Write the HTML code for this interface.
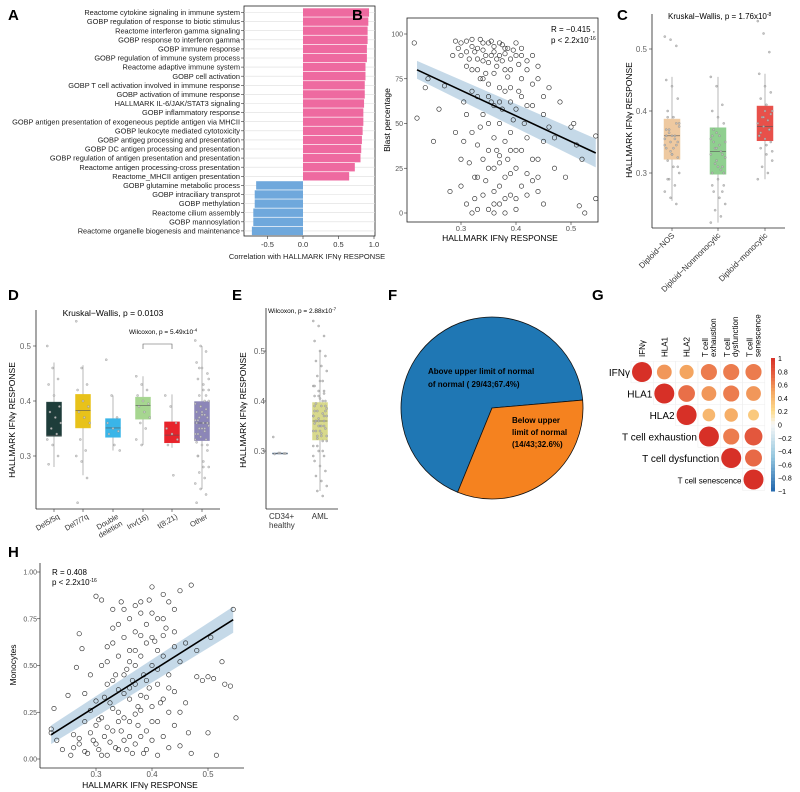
<!DOCTYPE html>
<html><head><meta charset="utf-8"><style>
body{margin:0;background:#fff}
svg{display:block;font-family:"Liberation Sans",Arial,sans-serif}
</style></head><body>
<svg id="fig" width="800" height="792" viewBox="0 0 800 792"></svg>
<script>
// ---------- DATA ----------
const pathwayNames=["Reactome cytokine signaling in immune system","GOBP regulation of response to biotic stimulus","Reactome interferon gamma signaling","GOBP response to interferon gamma","GOBP immune response","GOBP regulation of immune system process","Reactome adaptive immune system","GOBP cell activation","GOBP T cell activation involved in immune response","GOBP activation of immune response","HALLMARK IL-6/JAK/STAT3 signaling","GOBP inflammatory response","GOBP antigen presentation of exogeneous peptide antigen via MHCII","GOBP leukocyte mediated cytotoxicity","GOBP antigeg processing and presentation","GOBP DC antigen processing and presentation","GOBP regulation of antigen presentation and presentation","Reactome antigen processing-cross presentation","Reactome_MHCII antigen presentation","GOBP glutamine metabolic process","GOBP intraciliary transprot","GOBP methylation","Reactome cilium assembly","GOBP mannosylation","Reactome organelle biogenesis and maintenance"];
const pathwayCorr=[0.93,0.92,0.91,0.91,0.90,0.90,0.88,0.88,0.87,0.87,0.86,0.85,0.85,0.84,0.83,0.82,0.81,0.73,0.65,-0.66,-0.68,-0.68,-0.70,-0.70,-0.72];
const corrTicks=[-0.5,0,0.5,1];

const blastPoints=[[0.215,95],[0.22,53],[0.235,70],[0.24,75],[0.25,40],[0.26,58],[0.27,71],[0.28,12],[0.285,88],[0.29,45],[0.30,95],[0.30,30],[0.305,62],[0.31,90],[0.31,5],[0.31,82],[0.32,80],[0.32,45],[0.32,0],[0.32,93],[0.325,20],[0.33,92],[0.33,65],[0.33,20],[0.33,2],[0.335,48],[0.34,85],[0.34,55],[0.34,10],[0.34,95],[0.345,78],[0.35,95],[0.35,72],[0.35,35],[0.35,2],[0.355,88],[0.36,90],[0.36,60],[0.36,25],[0.36,0],[0.36,42],[0.365,82],[0.37,88],[0.37,50],[0.37,15],[0.37,5],[0.37,70],[0.375,94],[0.38,92],[0.38,68],[0.38,40],[0.38,0],[0.385,30],[0.39,80],[0.39,45],[0.39,22],[0.39,62],[0.40,95],[0.40,58],[0.40,8],[0.40,35],[0.41,75],[0.41,35],[0.41,88],[0.42,85],[0.42,42],[0.42,10],[0.43,60],[0.43,18],[0.44,30],[0.44,82],[0.45,55],[0.45,5],[0.46,48],[0.46,70],[0.47,25],[0.48,62],[0.49,20],[0.50,48],[0.505,50],[0.51,38],[0.515,4],[0.52,30],[0.525,0],[0.545,8],[0.545,43],
[0.29,96],[0.295,92],[0.30,88],[0.31,96],[0.315,86],[0.32,97],[0.325,90],[0.33,86],[0.335,97],[0.34,91],[0.345,88],[0.35,84],[0.355,96],[0.36,93],[0.365,86],[0.37,95],[0.375,85],[0.38,89],[0.385,92],[0.39,86],[0.395,91],[0.40,88],[0.405,83],[0.41,92],[0.42,80],[0.43,88],[0.44,75],
[0.30,15],[0.305,40],[0.31,55],[0.315,28],[0.32,68],[0.325,8],[0.33,38],[0.335,75],[0.34,30],[0.345,18],[0.35,50],[0.355,62],[0.36,12],[0.365,35],[0.37,28],[0.375,58],[0.38,20],[0.385,76],[0.39,10],[0.395,52],[0.40,25],[0.405,68],[0.41,15],[0.415,50],[0.42,60],[0.43,30],[0.44,12],[0.45,40],[0.33,80],[0.35,65],[0.37,62],[0.39,70],[0.34,75],[0.36,78],[0.38,80],[0.41,65],[0.43,72],[0.45,65],[0.47,42],[0.35,25],[0.37,32],[0.39,35],[0.36,5],[0.38,8],[0.40,2],[0.42,22],[0.44,20]];
const blastTicksX=[0.3,0.4,0.5];
const blastTicksY=[0,25,50,75,100];
const blastFit=[[0.22,80],[0.545,33.5]];

const groupNamesC=["Diploid−NOS","Diploid−Nonmonocytic","Diploid−monocytic"];
const boxStatsC=[[0.255,0.322,0.36,0.387,0.455],[0.22,0.298,0.335,0.373,0.455],[0.29,0.352,0.375,0.408,0.46]];
const jitterC=[[0.52,0.515,0.505,0.45,0.44,0.42,0.40,0.39,0.38,0.37,0.36,0.355,0.35,0.345,0.34,0.33,0.325,0.32,0.31,0.30,0.29,0.28,0.27,0.26,0.25,0.37,0.36,0.35,0.39,0.34,0.375,0.365,0.355,0.345,0.335,0.38,0.36,0.33,0.31,0.29],[0.455,0.44,0.41,0.40,0.39,0.38,0.37,0.36,0.35,0.34,0.335,0.33,0.32,0.31,0.30,0.29,0.28,0.27,0.26,0.25,0.24,0.23,0.22,0.34,0.33,0.36,0.31,0.30,0.35,0.345,0.325,0.315,0.305,0.355,0.365,0.27,0.28],[0.545,0.525,0.495,0.46,0.44,0.43,0.42,0.41,0.40,0.39,0.385,0.38,0.375,0.37,0.36,0.355,0.35,0.34,0.33,0.32,0.31,0.30,0.29,0.39,0.37,0.36,0.40,0.395,0.365,0.345,0.335]];
const ticksC=[0.3,0.4,0.5];

const groupNamesD=["Del5/5q","Del7/7q","Double deletion","Inv(16)","t(8;21)","Other"];
const boxStatsD=[[0.28,0.336,0.337,0.398,0.47],[0.265,0.351,0.383,0.412,0.465],[0.31,0.334,0.351,0.368,0.41],[0.32,0.367,0.392,0.407,0.445],[0.315,0.324,0.338,0.362,0.412],[0.24,0.328,0.36,0.399,0.50]];
const jitterD=[[0.5,0.46,0.44,0.43,0.41,0.39,0.38,0.37,0.36,0.35,0.34,0.33,0.32,0.30,0.285],[0.545,0.46,0.43,0.42,0.40,0.39,0.38,0.37,0.36,0.33,0.31,0.30,0.29,0.26,0.215],[0.475,0.41,0.37,0.36,0.35,0.345,0.34,0.32,0.31],[0.445,0.43,0.42,0.41,0.40,0.395,0.39,0.38,0.37,0.36,0.35,0.33,0.32],[0.41,0.39,0.36,0.35,0.34,0.33,0.32,0.265],[0.51,0.50,0.49,0.47,0.46,0.45,0.44,0.43,0.42,0.41,0.40,0.395,0.39,0.385,0.38,0.375,0.37,0.365,0.36,0.355,0.35,0.345,0.34,0.335,0.33,0.325,0.32,0.31,0.30,0.29,0.28,0.27,0.26,0.25,0.24,0.23,0.215,0.38,0.36,0.34,0.42,0.40,0.37,0.35,0.33,0.39,0.41,0.36,0.35,0.32,0.30,0.28,0.44,0.46,0.375,0.365]];
const ticksD=[0.3,0.4,0.5];

const groupNamesE=["CD34+ healthy","AML"];
const jitterE=[[0.328,0.296,0.295,0.294,0.296,0.295],[0.56,0.55,0.53,0.52,0.50,0.49,0.48,0.47,0.46,0.45,0.44,0.43,0.42,0.415,0.41,0.405,0.40,0.395,0.39,0.385,0.38,0.375,0.37,0.365,0.36,0.355,0.35,0.345,0.34,0.335,0.33,0.325,0.32,0.31,0.30,0.29,0.28,0.27,0.26,0.25,0.24,0.23,0.22,0.21,0.37,0.36,0.35,0.38,0.34,0.39,0.36,0.35,0.37,0.33,0.40,0.34,0.41,0.42,0.43,0.44,0.38,0.36,0.33,0.32,0.31,0.30,0.29,0.35,0.37,0.39]];
const boxStatsE=[[0.294,0.294,0.295,0.296,0.296],[0.22,0.322,0.36,0.397,0.50]];
const ticksE=[0.3,0.4,0.5];

const pieLabels=["Above upper limit of normal","Below upper limit of normal"];
const pieCounts=[29,14];

const corrNames=["IFNγ","HLA1","HLA2","T cell exhaustion","T cell dysfunction","T cell senescence"];
const corrMatrix=[[1,0.55,0.5,0.65,0.65,0.65],[null,1,0.7,0.55,0.65,0.55],[null,null,1,0.4,0.45,0.3],[null,null,null,1,0.65,0.8],[null,null,null,null,1,0.72],[null,null,null,null,null,1]];
const colorbarTicks=[1,0.8,0.6,0.4,0.2,0,-0.2,-0.4,-0.6,-0.8,-1];

const monoPoints=[[0.22,0.16],[0.22,0.14],[0.225,0.27],[0.23,0.1],[0.24,0.05],[0.25,0.34],[0.255,0.02],[0.26,0.13],[0.265,0.49],[0.27,0.67],[0.27,0.08],[0.275,0.59],[0.28,0.2],[0.28,0.35],[0.285,0.03],[0.29,0.26],[0.29,0.45],[0.295,0.1],[0.30,0.87],[0.30,0.18],[0.30,0.31],[0.305,0.05],[0.31,0.5],[0.31,0.85],[0.31,0.22],[0.315,0.12],[0.32,0.4],[0.32,0.6],[0.32,0.02],[0.325,0.3],[0.33,0.8],[0.33,0.15],[0.33,0.7],[0.335,0.45],[0.34,0.55],[0.34,0.25],[0.34,0.05],[0.345,0.84],[0.35,0.65],[0.35,0.35],[0.35,0.1],[0.355,0.48],[0.36,0.75],[0.36,0.2],[0.36,0.58],[0.365,0.03],[0.37,0.82],[0.37,0.4],[0.37,0.68],[0.375,0.28],[0.38,0.55],[0.38,0.12],[0.38,0.78],[0.385,0.45],[0.39,0.62],[0.39,0.33],[0.39,0.05],[0.395,0.85],[0.40,0.92],[0.40,0.5],[0.40,0.2],[0.405,0.63],[0.41,0.75],[0.41,0.4],[0.41,0.02],[0.415,0.3],[0.42,0.88],[0.42,0.55],[0.42,0.12],[0.425,0.7],[0.43,0.45],[0.43,0.25],[0.44,0.8],[0.44,0.36],[0.45,0.9],[0.45,0.52],[0.45,0.07],[0.46,0.62],[0.465,0.14],[0.47,0.93],[0.47,0.03],[0.48,0.44],[0.48,0.58],[0.49,0.42],[0.50,0.44],[0.50,0.14],[0.505,0.65],[0.51,0.43],[0.515,0.02],[0.525,0.52],[0.53,0.4],[0.54,0.39],[0.545,0.8],[0.55,0.22],
[0.26,0.06],[0.27,0.11],[0.28,0.04],[0.29,0.14],[0.30,0.08],[0.305,0.21],[0.31,0.02],[0.315,0.33],[0.32,0.17],[0.325,0.09],[0.33,0.27],[0.335,0.06],[0.34,0.37],[0.345,0.15],[0.35,0.22],[0.355,0.05],[0.36,0.32],[0.365,0.42],[0.37,0.08],[0.375,0.18],[0.38,0.26],[0.385,0.03],[0.39,0.15],[0.395,0.38],[0.40,0.1],[0.41,0.2],[0.42,0.32],[0.43,0.06],[0.44,0.18],[0.45,0.25],
[0.32,0.52],[0.33,0.62],[0.34,0.72],[0.35,0.8],[0.36,0.52],[0.37,0.58],[0.38,0.66],[0.39,0.72],[0.40,0.78],[0.41,0.58],[0.42,0.66],[0.43,0.84],[0.44,0.6],[0.35,0.45],[0.37,0.5],[0.39,0.42],[0.41,0.48],[0.33,0.42],[0.36,0.38],[0.38,0.34],[0.40,0.28],[0.34,0.2],[0.36,0.12],[0.37,0.24],[0.43,0.38],[0.46,0.3],[0.38,0.84],[0.40,0.65],[0.42,0.75],[0.44,0.68]];
const monoTicksX=[0.3,0.4,0.5];
const monoTicksY=[0,0.25,0.5,0.75,1];
const monoFit=[[0.22,0.13],[0.545,0.745]];

// ---------- HELPERS ----------
const NS="http://www.w3.org/2000/svg";
const svg=document.getElementById('fig');
function mk(tag,attrs,parent,text){const e=document.createElementNS(NS,tag);for(const k in attrs)e.setAttribute(k,attrs[k]);if(text!==undefined)e.textContent=text;(parent||svg).appendChild(e);return e;}
function grp(name){const g=mk('g',{});return g;}
function lin(d0,d1,r0,r1){return v=>r0+(v-d0)*(r1-r0)/(d1-d0);}
function jit(i,w){return ((i*37)%11-5)/5*w;}
function panelLetter(t,x,y){const e=mk('text',{x:x,y:y,'font-size':15,'font-weight':'bold'},svg,t);}

// ---------- PANEL A ----------
(function(){
const g=grp('panel-a-bar-chart');
const x=lin(0,1,303,374);const top=8,step=9.1;
mk('rect',{x:244,y:6,width:131,height:230,fill:'none',stroke:'#222','stroke-width':0.8},g);
pathwayNames.forEach((n,i)=>{const cy=top+step*i+4.5;
 mk('line',{x1:244,x2:375,y1:cy,y2:cy,stroke:'#ddd','stroke-width':0.6},g);
 mk('line',{x1:241,x2:244,y1:cy,y2:cy,stroke:'#333','stroke-width':0.6},g);
 const t=mk('text',{x:240,y:cy+2.6,'font-size':7.4,'text-anchor':'end',fill:'#222'},g,n);
 
 
 const v=pathwayCorr[i];const b=mk('rect',{x:Math.min(x(0),x(v)),y:cy-4.2,width:Math.abs(x(v)-x(0)),height:8.4,fill:v>0?'#ee6aa0':'#6fa8dc'},g);
 
 
});
corrTicks.forEach(t=>{mk('line',{x1:x(t),x2:x(t),y1:236,y2:239,stroke:'#333','stroke-width':0.6},g);mk('text',{x:x(t),y:247,'font-size':7.5,'text-anchor':'middle',fill:'#333'},g,t===0?'0.0':t.toFixed(1));});
mk('text',{x:307,y:259,'font-size':7.5,'text-anchor':'middle',fill:'#222'},g,'Correlation with HALLMARK IFNγ RESPONSE');
})();
panelLetter('A',8,20);

// ---------- PANEL B ----------
(function(){
const g=grp('panel-b-scatter');
const x=lin(0.3,0.5,461,571),y=lin(0,100,213,34);
mk('rect',{x:407,y:18,width:191,height:204,fill:'none',stroke:'#222','stroke-width':0.8},g);
const [a,b]=blastFit;
mk('polygon',{points:`${x(a[0])},${y(a[1]+5)} ${x(b[0])},${y(b[1]+8)} ${x(b[0])},${y(b[1]-8)} ${x(a[0])},${y(a[1]-5)}`,fill:'#9fc0d8',opacity:0.6},g);
blastPoints.forEach(p=>{const c=mk('circle',{cx:x(p[0]),cy:y(p[1]),r:2.2,fill:'none',stroke:'#222','stroke-width':0.6},g);});
mk('line',{x1:x(a[0]),y1:y(a[1]),x2:x(b[0]),y2:y(b[1]),stroke:'#000','stroke-width':1.6},g);
blastTicksX.forEach(t=>{mk('line',{x1:x(t),x2:x(t),y1:222,y2:225,stroke:'#333','stroke-width':0.6},g);mk('text',{x:x(t),y:231,'font-size':7.5,'text-anchor':'middle',fill:'#555'},g,t.toFixed(1));});
blastTicksY.forEach(t=>{mk('line',{x1:404,x2:407,y1:y(t),y2:y(t),stroke:'#333','stroke-width':0.6},g);mk('text',{x:403,y:y(t)+2.5,'font-size':7,'text-anchor':'end',fill:'#555'},g,t);});
mk('text',{x:500,y:241,'font-size':8.5,'text-anchor':'middle'},g,'HALLMARK IFNγ RESPONSE');
mk('text',{x:390,y:120,'font-size':8.5,'text-anchor':'middle',transform:'rotate(-90 390 120)'},g,'Blast percentage');
mk('text',{x:551,y:32,'font-size':8},g,'R = −0.415 ,');
const t=mk('text',{x:551,y:43,'font-size':8},g,'p < 2.2x10');mk('tspan',{'font-size':5,dy:-3},t,'-16');
})();
panelLetter('B',352,20);

// ---------- BOX HELPER ----------
function boxPanel(g,stats,jit_,centers,y,colors,w,ptcol){
 stats.forEach((s,i)=>{const cx=centers[i];
  mk('line',{x1:cx,x2:cx,y1:y(s[0]),y2:y(s[4]),stroke:'#888','stroke-width':0.6},g);
  const b=mk('rect',{x:cx-w/2,y:y(s[3]),width:w,height:Math.max(0.8,y(s[1])-y(s[3])),fill:colors[i],stroke:colors[i],'stroke-width':0.5},g);
  
  
  mk('line',{x1:cx-w/2,x2:cx+w/2,y1:y(s[2]),y2:y(s[2]),stroke:'#555','stroke-width':0.6},g);
  jit_[i].forEach((v,k)=>{const c=mk('circle',{cx:cx+jit(k,w*0.45),cy:y(v),r:1.1,fill:ptcol,stroke:'#777','stroke-width':0.3,opacity:0.85},g);});
 });
}

// ---------- PANEL C ----------
(function(){
const g=grp('panel-c-boxplot');
const y=lin(0.3,0.5,173,49);const cs=[672,718,765];
mk('line',{x1:652,x2:652,y1:14,y2:228,stroke:'#222','stroke-width':0.8},g);
mk('line',{x1:652,x2:785,y1:228,y2:228,stroke:'#222','stroke-width':0.8},g);
boxPanel(g,boxStatsC,jitterC,cs,y,['#eec9a0','#8fcf8f','#e8504a'],16,'#bbb');
ticksC.forEach(t=>{mk('line',{x1:649,x2:652,y1:y(t),y2:y(t),stroke:'#333','stroke-width':0.6},g);mk('text',{x:647,y:y(t)+3,'font-size':8,'text-anchor':'end',fill:'#666'},g,t.toFixed(1));});
groupNamesC.forEach((n,i)=>{mk('line',{x1:cs[i],x2:cs[i],y1:228,y2:231,stroke:'#333','stroke-width':0.6},g);mk('text',{x:cs[i]+3,y:236,'font-size':8,'text-anchor':'end',fill:'#333',transform:`rotate(-45 ${cs[i]+3} 236)`},g,n);});
mk('text',{x:632,y:120,'font-size':8.5,'text-anchor':'middle',transform:'rotate(-90 632 120)'},g,'HALLMARK IFNγ RESPONSE');
const t=mk('text',{x:668,y:19,'font-size':8},g,'Kruskal−Wallis, p = 1.76x10');mk('tspan',{'font-size':5,dy:-3},t,'-8');
})();
panelLetter('C',617,20);

// ---------- PANEL D ----------
(function(){
const g=grp('panel-d-boxplot');
const y=lin(0.3,0.5,456,346);const cs=[54,83,113,143,172,202];
mk('line',{x1:36,x2:36,y1:310,y2:509,stroke:'#222','stroke-width':0.8},g);
mk('line',{x1:36,x2:220,y1:509,y2:509,stroke:'#222','stroke-width':0.8},g);
boxPanel(g,boxStatsD,jitterD,cs,y,['#1e3d3a','#e8c21a','#3ab5e8','#a6d690','#e8232b','#8c86b8'],15,'#ccc');
ticksD.forEach(t=>{mk('line',{x1:33,x2:36,y1:y(t),y2:y(t),stroke:'#333','stroke-width':0.6},g);mk('text',{x:31,y:y(t)+3,'font-size':8,'text-anchor':'end',fill:'#666'},g,t.toFixed(1));});
groupNamesD.forEach((n,i)=>{mk('line',{x1:cs[i],x2:cs[i],y1:509,y2:512,stroke:'#333','stroke-width':0.6},g);
 if(n==='Double deletion'){const tx=mk('text',{x:cs[i]+6,y:518,'font-size':7.5,'text-anchor':'end',fill:'#333',transform:`rotate(-30 ${cs[i]+6} 518)`},g);mk('tspan',{x:cs[i]+6,dy:0},tx,'Double');mk('tspan',{x:cs[i]+6,dy:8},tx,'deletion');}
 else mk('text',{x:cs[i]+6,y:518,'font-size':7.5,'text-anchor':'end',fill:'#333',transform:`rotate(-30 ${cs[i]+6} 518)`},g,n);});
mk('text',{x:15,y:420,'font-size':8.5,'text-anchor':'middle',transform:'rotate(-90 15 420)'},g,'HALLMARK IFNγ RESPONSE');
mk('text',{x:113,y:316,'font-size':8.5,'text-anchor':'middle'},g,'Kruskal−Wallis, p = 0.0103');
mk('path',{d:`M143 349 V344 H172 V349`,fill:'none',stroke:'#555','stroke-width':0.6},g);
const t=mk('text',{x:129,y:334,'font-size':6.5},g,'Wilcoxon, p = 5.49x10');mk('tspan',{'font-size':4.5,dy:-2.5},t,'-4');
})();
panelLetter('D',8,300);

// ---------- PANEL E ----------
(function(){
const g=grp('panel-e-boxplot');
const y=lin(0.3,0.5,451,351);const cs=[280,320];
mk('line',{x1:266,x2:266,y1:308,y2:509,stroke:'#222','stroke-width':0.8},g);
mk('line',{x1:266,x2:338,y1:509,y2:509,stroke:'#222','stroke-width':0.8},g);
boxPanel(g,boxStatsE,jitterE,cs,y,['#5a7fa8','#d8d98c'],15,'#bbb');
ticksE.forEach(t=>{mk('line',{x1:263,x2:266,y1:y(t),y2:y(t),stroke:'#333','stroke-width':0.6},g);mk('text',{x:265,y:y(t)+3,'font-size':8,'text-anchor':'end',fill:'#666'},g,t.toFixed(1));});
mk('text',{x:269,y:519,'font-size':8,fill:'#333'},g,'CD34+');mk('text',{x:269,y:528,'font-size':8,fill:'#333'},g,'healthy');
mk('text',{x:320,y:519,'font-size':8,'text-anchor':'middle',fill:'#333'},g,'AML');
mk('text',{x:246,y:410,'font-size':8.5,'text-anchor':'middle',transform:'rotate(-90 246 410)'},g,'HALLMARK IFNγ RESPONSE');
const t=mk('text',{x:268,y:313,'font-size':6.5},g,'Wilcoxon, p = 2.88x10');mk('tspan',{'font-size':4.5,dy:-2.5},t,'-7');
})();
panelLetter('E',232,300);

// ---------- PANEL F ----------
(function(){
const g=grp('panel-f-pie');
const cx=492,cy=408,r=91;const tot=pieCounts[0]+pieCounts[1];
const start=-5*Math.PI/180;const a1=start+2*Math.PI*pieCounts[1]/tot;
const P=a=>[cx+r*Math.cos(a),cy+r*Math.sin(a)];
const s=P(start),e=P(a1);
const blue=mk('path',{d:`M${cx} ${cy} L${e[0]} ${e[1]} A${r} ${r} 0 1 1 ${s[0]} ${s[1]} Z`,fill:'#1f77b4',stroke:'#111','stroke-width':0.8},g);

const or=mk('path',{d:`M${cx} ${cy} L${s[0]} ${s[1]} A${r} ${r} 0 0 1 ${e[0]} ${e[1]} Z`,fill:'#f5821f',stroke:'#111','stroke-width':0.8},g);

const pct=pieCounts.map(c=>(100*c/tot).toFixed(1));
mk('text',{x:428,y:374,'font-size':8,'font-weight':'bold'},g,pieLabels[0]);
mk('text',{x:428,y:387,'font-size':8,'font-weight':'bold'},g,`of normal ( ${pieCounts[0]}/${tot};${pct[0]}%)`);
mk('text',{x:512,y:423,'font-size':8,'font-weight':'bold'},g,'Below upper');
mk('text',{x:512,y:435,'font-size':8,'font-weight':'bold'},g,'limit of normal');
mk('text',{x:512,y:447,'font-size':8,'font-weight':'bold'},g,`(${pieCounts[1]}/${tot};${pct[1]}%)`);
})();
panelLetter('F',388,300);

// ---------- PANEL G ----------
(function(){
const g=grp('panel-g-corrplot');
const xs=[642,664.3,686.6,708.9,731.2,753.5],ys=[372,393.5,415,436.5,458,479.5];
function col(v){const stops=[[-1,[33,102,172]],[-0.5,[146,197,222]],[0,[247,247,247]],[0.2,[253,219,140]],[0.5,[244,165,96]],[0.75,[230,97,66]],[1,[215,48,39]]];
 for(let i=1;i<stops.length;i++){if(v<=stops[i][0]){const [a,ca]=stops[i-1],[b,cb]=stops[i];const f=(v-a)/(b-a);return `rgb(${ca.map((c,k)=>Math.round(c+(cb[k]-c)*f)).join(',')})`;}}return 'rgb(215,48,39)';}
for(let i=0;i<6;i++)for(let j=i;j<6;j++){mk('rect',{x:xs[j]-11,y:ys[i]-10.7,width:22.3,height:21.5,fill:'none',stroke:'#eee','stroke-width':0.5},g);}
corrMatrix.forEach((row,i)=>row.forEach((v,j)=>{if(v===null)return;const c=mk('circle',{cx:xs[j],cy:ys[i],r:10*Math.sqrt(Math.abs(v)),fill:col(v)},g);}));
corrNames.forEach((n,i)=>{mk('text',{x:xs[i]-12,y:ys[i]+4,'font-size':i===5?8:10,'text-anchor':'end'},g,n);});
const colLabels=[["IFNγ"],["HLA1"],["HLA2"],["T cell","exhaustion"],["T cell","dysfunction"],["T cell","senescence"]];
colLabels.forEach((ls,j)=>{ls.forEach((l,k)=>{const xx=xs[j]+3+(ls.length===2?(k===0?-4:4):0);mk('text',{x:xx,y:357,'font-size':8,transform:`rotate(-90 ${xx} 357)`},g,l);});});
const cbTop=358,cbH=133;
for(let k=0;k<40;k++){const v=1-2*k/40;mk('rect',{x:771,y:cbTop+cbH*k/40,width:4,height:cbH/40+0.5,fill:col(v-0.025)},g);}
colorbarTicks.forEach(t=>{const yy=cbTop+(1-t)/2*cbH;mk('text',{x:778,y:yy+3,'font-size':7},g,t===0?'0':(t<0?'−'+Math.abs(t):String(t)));});
})();
panelLetter('G',592,300);

// ---------- PANEL H ----------
(function(){
const g=grp('panel-h-scatter');
const x=lin(0.3,0.5,96,208),y=lin(0,1,759,572);
mk('line',{x1:40,x2:40,y1:563,y2:768,stroke:'#222','stroke-width':0.8},g);
mk('line',{x1:40,x2:244,y1:768,y2:768,stroke:'#222','stroke-width':0.8},g);
const [a,b]=monoFit;
mk('polygon',{points:`${x(a[0])},${y(a[1]+0.05)} ${x(b[0])},${y(b[1]+0.07)} ${x(b[0])},${y(b[1]-0.07)} ${x(a[0])},${y(a[1]-0.05)}`,fill:'#9fc0d8',opacity:0.6},g);
monoPoints.forEach(p=>{const c=mk('circle',{cx:x(p[0]),cy:y(p[1]),r:2.2,fill:'none',stroke:'#222','stroke-width':0.6},g);});
mk('line',{x1:x(a[0]),y1:y(a[1]),x2:x(b[0]),y2:y(b[1]),stroke:'#000','stroke-width':1.6},g);
monoTicksX.forEach(t=>{mk('line',{x1:x(t),x2:x(t),y1:768,y2:771,stroke:'#333','stroke-width':0.6},g);mk('text',{x:x(t),y:777,'font-size':8,'text-anchor':'middle',fill:'#555'},g,t.toFixed(1));});
monoTicksY.forEach(t=>{mk('line',{x1:37,x2:40,y1:y(t),y2:y(t),stroke:'#333','stroke-width':0.6},g);mk('text',{x:37,y:y(t)+2.5,'font-size':7,'text-anchor':'end',fill:'#555'},g,t.toFixed(2));});
mk('text',{x:140,y:788,'font-size':8.5,'text-anchor':'middle'},g,'HALLMARK IFNγ RESPONSE');
mk('text',{x:16,y:665,'font-size':8.5,'text-anchor':'middle',transform:'rotate(-90 16 665)'},g,'Monocytes');
mk('text',{x:52,y:575,'font-size':8},g,'R = 0.408');
const t=mk('text',{x:52,y:585,'font-size':8},g,'p < 2.2x10');mk('tspan',{'font-size':5,dy:-3},t,'-16');
})();
panelLetter('H',8,557);
</script>
</body></html>
